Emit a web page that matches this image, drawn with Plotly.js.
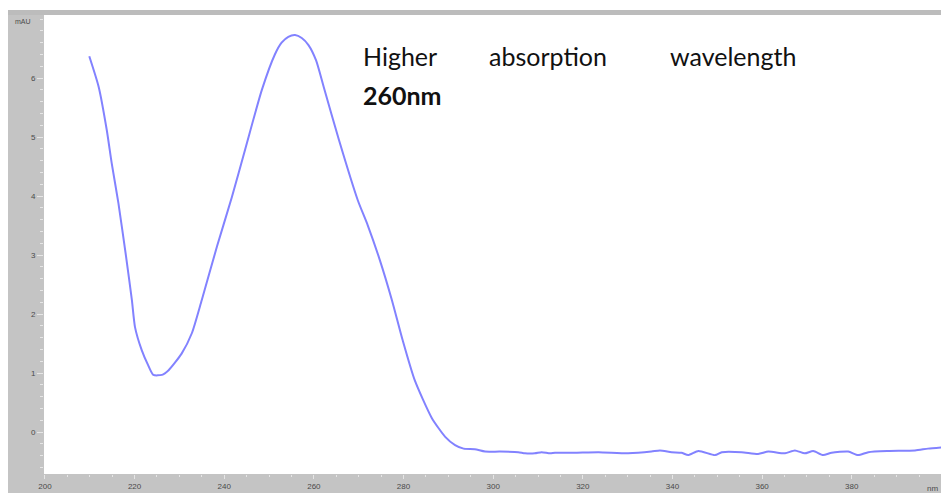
<!DOCTYPE html>
<html>
<head>
<meta charset="utf-8">
<script src="https://cdn.plot.ly/plotly-3.0.1.min.js"></script>
<style>html,body{margin:0;padding:0;background:#fff;}#chart{width:941px;height:495px;}</style>
</head>
<body>
<div id="chart"></div>
<script>
// Wavelength (nm) and absorbance (mAU)
const wavelength = [209.9, 212.0, 213.8, 214.9, 216.4, 218.1, 219.4, 220.1, 221.6, 223.0, 224.2, 226.1, 227.6, 230.5, 232.8, 235.0, 238.4, 241.7, 244.7, 248.4, 251.3, 252.8, 254.3, 255.8, 257.3, 258.8, 260.5, 262.2, 265.6, 269.8, 272.0, 274.7, 277.4, 279.8, 282.5, 286.3, 289.3, 291.5, 293.4, 295.9, 298.2, 301.5, 305.6, 307.1, 309.3, 310.8, 312.7, 313.8, 318.0, 323.5, 330.1, 335.3, 337.2, 339.8, 342.0, 343.5, 345.8, 349.5, 351.0, 355.4, 359.1, 361.4, 365.1, 367.3, 369.5, 371.4, 373.6, 375.5, 379.2, 381.4, 383.7, 388.1, 394.1, 397.0, 400.0];
const absorbance = [6.37, 5.85, 5.12, 4.56, 3.88, 2.98, 2.24, 1.78, 1.39, 1.14, 0.97, 0.97, 1.05, 1.33, 1.68, 2.24, 3.15, 3.98, 4.80, 5.80, 6.40, 6.60, 6.70, 6.73, 6.68, 6.56, 6.30, 5.85, 4.95, 3.93, 3.51, 2.92, 2.24, 1.56, 0.88, 0.24, -0.08, -0.22, -0.28, -0.29, -0.33, -0.33, -0.34, -0.36, -0.36, -0.34, -0.36, -0.35, -0.35, -0.34, -0.36, -0.33, -0.31, -0.34, -0.35, -0.39, -0.32, -0.39, -0.34, -0.34, -0.37, -0.33, -0.36, -0.31, -0.36, -0.32, -0.39, -0.35, -0.33, -0.39, -0.34, -0.32, -0.31, -0.28, -0.26];
const xTickVals = [200, 220, 240, 260, 280, 300, 320, 340, 360, 380];
const yTickVals = [0, 1, 2, 3, 4, 5, 6];
const yUnit = "mAU";
const xUnit = "nm";
const noteLine1 = ["Higher", "absorption", "wavelength"];
const noteLine2 = "260nm";

const gray = "#c4c4c4";
const tickFont = {family: "Arial, Liberation Sans, sans-serif", size: 8, color: "#4a4a4a"};

const trace = {
  x: wavelength, y: absorbance, type: "scatter", mode: "lines",
  line: {color: "rgb(130,130,255)", width: 2, shape: "spline", smoothing: 0.6},
  hoverinfo: "skip"
};

const W = 897, H = 459;
const px = v => (v - 44) / W;
const py = v => (474 - v) / H;
const noteFont = {family: "Lato, Open Sans, sans-serif", size: 25, color: "#111"};

const layout = {
  width: 941, height: 495,
  margin: {l: 44, r: 0, t: 15, b: 21, pad: 0},
  paper_bgcolor: "#ffffff", plot_bgcolor: "#ffffff",
  showlegend: false,
  xaxis: {
    range: [199.8, 399.9], tickvals: xTickVals, showgrid: false, zeroline: false,
    ticks: "outside", ticklen: 4, tickcolor: "#e6e6e6", tickwidth: 1,
    minor: {dtick: 5, ticks: "outside", ticklen: 2, tickcolor: "#e6e6e6"},
    tickfont: tickFont, showline: false, fixedrange: true
  },
  yaxis: {
    range: [-0.71, 7.07], tickvals: yTickVals, showgrid: false, zeroline: false,
    ticks: "outside", ticklen: 6, tickcolor: "#e6e6e6", tickwidth: 1,
    minor: {dtick: 0.2, ticks: "outside", ticklen: 3, tickcolor: "#e6e6e6"},
    tickfont: tickFont, showline: false, fixedrange: true
  },
  shapes: [
    {type: "rect", xref: "paper", yref: "paper", x0: -36 / W, x1: 0, y0: -19 / H, y1: 1 + 5 / H, fillcolor: gray, line: {width: 0}, layer: "below"},
    {type: "rect", xref: "paper", yref: "paper", x0: -36 / W, x1: 1.01, y0: 1, y1: 1 + 5 / H, fillcolor: "#bcbcbc", line: {width: 0}, layer: "below"},
    {type: "rect", xref: "paper", yref: "paper", x0: -36 / W, x1: 1.01, y0: -19 / H, y1: 0, fillcolor: gray, line: {width: 0}, layer: "below"}
  ],
  annotations: [
    {text: noteLine1[0], xref: "paper", yref: "paper", x: px(361), y: py(56), xanchor: "left", yanchor: "middle", showarrow: false, font: noteFont},
    {text: noteLine1[1], xref: "paper", yref: "paper", x: px(487), y: py(56), xanchor: "left", yanchor: "middle", showarrow: false, font: noteFont},
    {text: noteLine1[2], xref: "paper", yref: "paper", x: px(798), y: py(56), xanchor: "right", yanchor: "middle", showarrow: false, font: noteFont},
    {text: "<b>" + noteLine2 + "</b>", xref: "paper", yref: "paper", x: px(361), y: py(95), xanchor: "left", yanchor: "middle", showarrow: false, font: noteFont},
    {text: yUnit, xref: "paper", yref: "paper", x: px(23), y: py(22), xanchor: "center", yanchor: "middle", showarrow: false, font: {family: "Arial, Liberation Sans, sans-serif", size: 7, color: "#4a4a4a"}},
    {text: xUnit, xref: "paper", yref: "paper", x: px(940), y: py(488), xanchor: "right", yanchor: "middle", showarrow: false, font: tickFont}
  ]
};

Plotly.newPlot("chart", [trace], layout, {displayModeBar: false, staticPlot: true});
</script>
</body>
</html>
